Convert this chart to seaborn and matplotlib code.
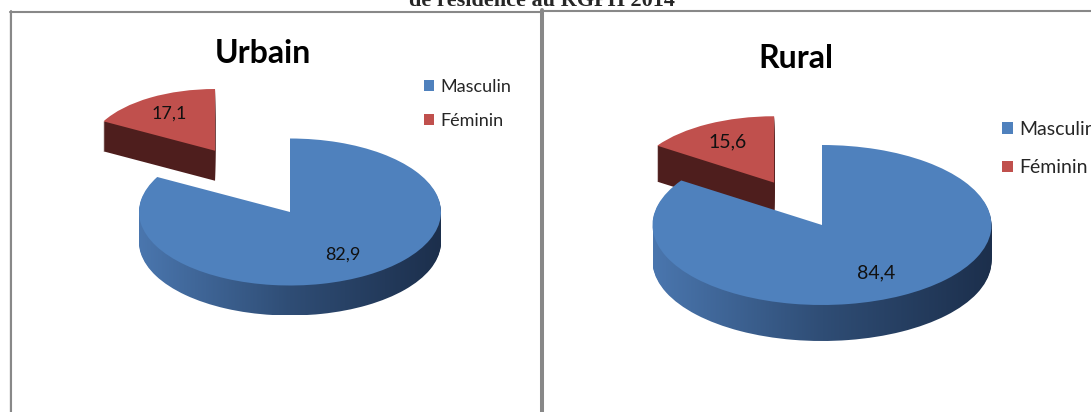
import numpy as np
import matplotlib
matplotlib.use("Agg")
import matplotlib.pyplot as plt
import seaborn as sns
from matplotlib.lines import Line2D
from matplotlib.colors import LinearSegmentedColormap

# données
categories = ["Masculin", "Féminin"]
urbain = [82.9, 17.1]
rural = [84.4, 15.6]
panel_titles = ["Urbain", "Rural"]
page_title = "de résidence au RGPH 2014"

BLUE = "#4F81BD"
RED = "#C0504D"
RED_SIDE = "#4E1E1D"
side_cmap = LinearSegmentedColormap.from_list("side", ["#4A76AE", "#2F4D75", "#1C2F4C"])

W, H = 1091, 412

sns.set_theme(style="white")
plt.rcParams["font.family"] = ["Lato", "DejaVu Sans"]


def fx(px):
    return px / W


def fy(py):
    return 1 - py / H


def fmt(p):
    return f"{p:.1f}".replace(".", ",")


def draw_panel(fig, values, title, cx, cy, rx, ry, depth_px, explode, red_r,
               title_pos, title_size, label_size, leg_pos, leg_size, leg_space):
    ax = fig.add_axes([0, 0, 1, 1])
    ax.patch.set_alpha(0)
    step = 1.0 / ry
    depth = depth_px * step
    opts = dict(startangle=90, counterclock=False, wedgeprops=dict(linewidth=0))
    txt = dict(fontsize=label_size, color="#111111")

    # part féminine détachée : côté sombre puis dessus
    for k in range(depth_px, 0, -1):
        wedges, _ = ax.pie(values, colors=["none", RED_SIDE], explode=[0, explode],
                           radius=red_r, center=(0, -k * step), **opts)
        for w in wedges:
            w.set_zorder(1)
    red_top, _, red_txt = ax.pie(values, colors=["none", RED], explode=[0, explode],
                                 radius=red_r, autopct=fmt, pctdistance=0.7,
                                 textprops=txt, **opts)
    for w in red_top:
        w.set_zorder(2)
    red_txt[0].set_visible(False)
    red_txt[1].set_zorder(6)

    # part masculine : côté en dégradé puis dessus
    grad = np.linspace(0, 1, 256).reshape(1, -1)
    for k in range(depth_px, 0, -1):
        wedges, _ = ax.pie(values, colors=["none", "none"], center=(0, -k * step), **opts)
        im = ax.imshow(grad, cmap=side_cmap, extent=(-1, 1, -1 - depth, 1),
                       aspect="auto", zorder=3, interpolation="bilinear")
        im.set_clip_path(wedges[0])
    blue_top, _, blue_txt = ax.pie(values, colors=[BLUE, "none"], autopct=fmt,
                                   pctdistance=0.68, textprops=txt, **opts)
    for w in blue_top:
        w.set_zorder(4)
    blue_txt[1].set_visible(False)
    blue_txt[0].set_zorder(6)

    ax.set_aspect("auto")
    ax.set_xlim(-cx / rx, (W - cx) / rx)
    ax.set_ylim(-(H - cy) / ry, cy / ry)
    ax.axis("off")

    fig.text(fx(title_pos[0]), fy(title_pos[1]), title, ha="center", va="baseline",
             fontsize=title_size, fontweight="bold", color="#000000")

    ax.legend(handles=[blue_top[0], red_top[1]], labels=categories, loc="upper left",
              bbox_to_anchor=(fx(leg_pos[0]), fy(leg_pos[1])), bbox_transform=fig.transFigure,
              frameon=False, fontsize=leg_size, handlelength=0.55, handleheight=0.55,
              handletextpad=0.35, labelspacing=leg_space, borderpad=0, borderaxespad=0)


fig = plt.figure(figsize=(W / 100, H / 100), dpi=100)

# cadres
gray = "#888888"
lines = [
    ([9.5, 9.5], [11, H], "#000000", 0.8),
    ([11, 11], [11, H], gray, 1.5),
    ([10, 542], [11.5, 11.5], gray, 1.5),
    ([542, 542], [10, H], gray, 2.9),
    ([542, W], [10.5, 10.5], gray, 1.5),
]
for xs, ys, c, lw in lines:
    fig.add_artist(Line2D([fx(x) for x in xs], [fy(y) for y in ys],
                          transform=fig.transFigure, color=c, lw=lw))

fig.text(fx(542), fy(6), page_title, ha="center", va="baseline", fontsize=16,
         fontweight="bold", family=["Liberation Serif", "DejaVu Serif"])

draw_panel(fig, urbain, panel_titles[0], cx=290, cy=212, rx=151, ry=73.5, depth_px=30,
           explode=0.97, red_r=0.84, title_pos=(263, 63), title_size=23, label_size=13,
           leg_pos=(424, 79), leg_size=13, leg_space=0.97)
draw_panel(fig, rural, panel_titles[1], cx=822, cy=225, rx=169.5, ry=80, depth_px=36,
           explode=0.6, red_r=0.83, title_pos=(796, 68), title_size=23, label_size=14,
           leg_pos=(1002, 121), leg_size=14, leg_space=1.1)

fig.savefig("out.png", dpi=100)
